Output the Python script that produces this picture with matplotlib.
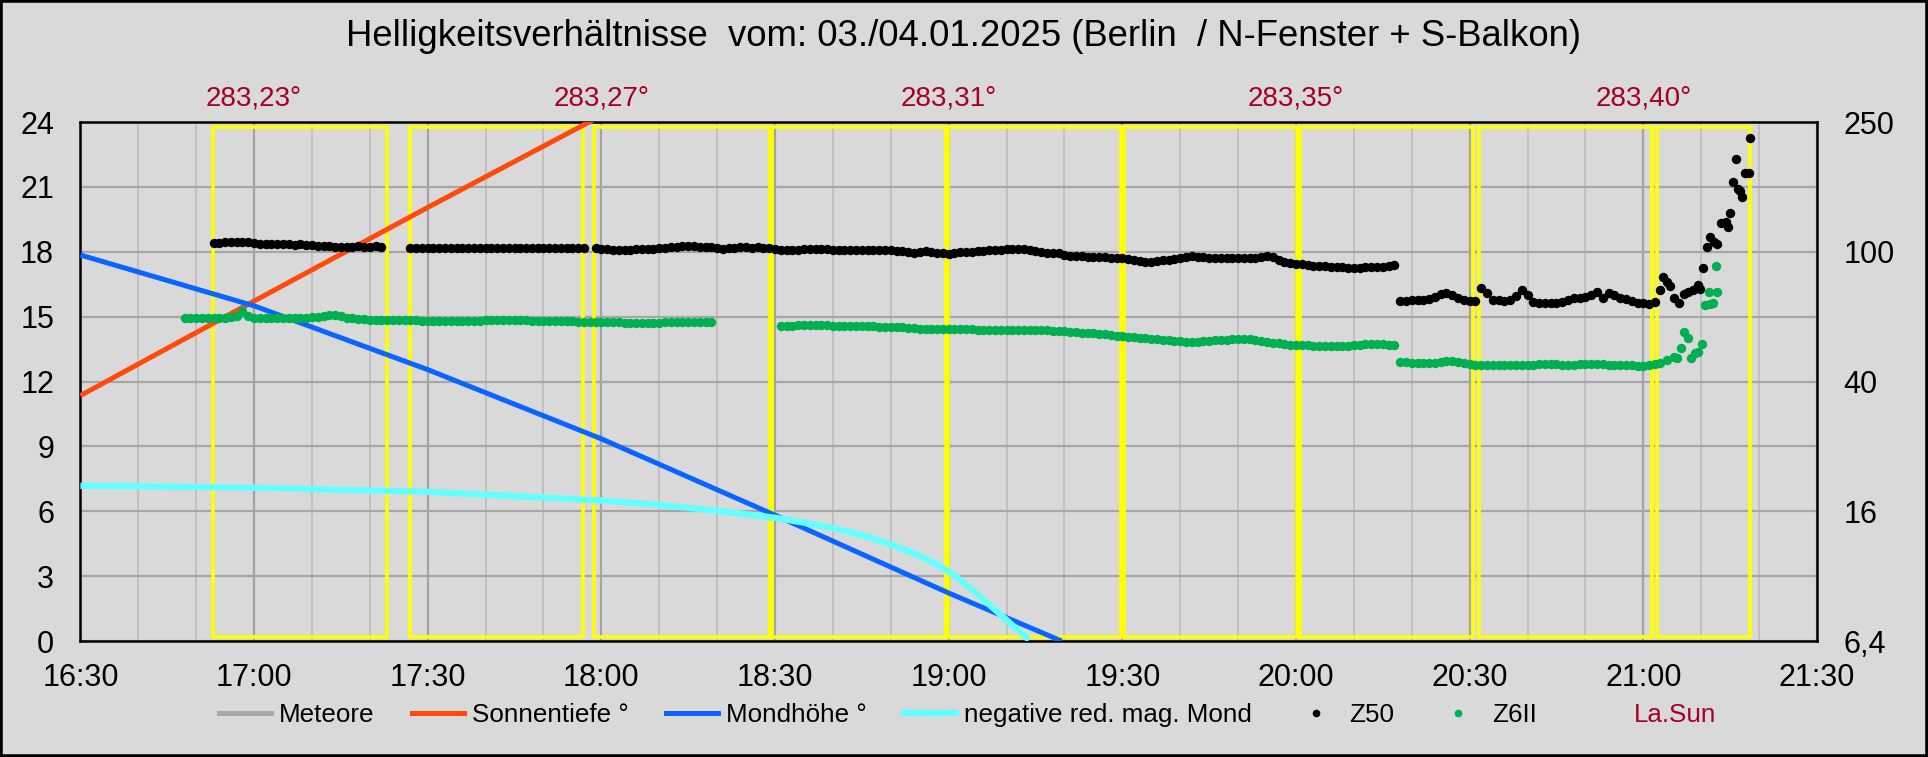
import numpy as np
import matplotlib.pyplot as plt
from matplotlib.lines import Line2D
from matplotlib.patches import Rectangle
from matplotlib.ticker import NullLocator
import matplotlib.transforms as mtransforms

plt.rcParams['font.family'] = ['Liberation Sans', 'DejaVu Sans']


def hm(s):
    h, m = s.split(":")
    return int(h) + float(m) / 60


# --- Linien (Zeit, Wert) ---
sun_time = ["16:30", "17:00", "17:30", "18:00"]
sun_val = [11.35, 15.72, 20.05, 24.3]

moon_time = ["16:30", "17:00", "17:30", "18:00", "18:30", "19:00", "19:19.5"]
moon_val = [17.85, 15.5, 12.55, 9.35, 5.82, 2.22, 0.0]

mag_time = ["16:30", "17:00", "17:30", "18:00", "18:10", "18:20", "18:30", "18:35",
            "18:40", "18:45", "18:50", "18:55", "18:57.5", "19:00", "19:02.5", "19:05",
            "19:07.5", "19:10", "19:13.9"]
mag_val = [7.18, 7.09, 6.90, 6.50, 6.30, 6.02, 5.70, 5.48,
           5.22, 4.90, 4.47, 3.94, 3.60, 3.22, 2.72, 2.16,
           1.57, 0.97, 0.05]

meteor_time = []  # keine Meteore

# --- Z50 (1-Minuten-Werte je Abschnitt) ---
z50_a_start = "16:53"
z50_a = [18.42, 18.42, 18.44, 18.47, 18.47, 18.46, 18.44, 18.40, 18.36, 18.35,
         18.37, 18.36, 18.38, 18.34, 18.33, 18.34, 18.32, 18.30, 18.28, 18.27,
         18.25, 18.24, 18.24, 18.24, 18.24, 18.25, 18.24, 18.24, 18.25, 18.24]
z50_b_start = "17:27"
z50_b = [18.17, 18.18, 18.17, 18.16, 18.17, 18.18, 18.17, 18.16, 18.16, 18.17,
         18.18, 18.18, 18.17, 18.16, 18.17, 18.17, 18.18, 18.17, 18.16, 18.16,
         18.17, 18.17, 18.18, 18.17, 18.17, 18.16, 18.16, 18.17, 18.17, 18.16, 18.16]
z50_c_start = "17:59"
z50_c = [18.17, 18.15, 18.12, 18.10, 18.09, 18.08, 18.10, 18.12, 18.14, 18.15,
         18.15, 18.16, 18.18, 18.20, 18.22, 18.25, 18.27, 18.26, 18.24, 18.22,
         18.20, 18.17, 18.15, 18.16, 18.18, 18.20, 18.20, 18.19, 18.20, 18.19,
         18.16, 18.12, 18.10, 18.08, 18.08, 18.10, 18.11, 18.12, 18.11, 18.11,
         18.11, 18.10, 18.09, 18.08, 18.08, 18.08, 18.08, 18.08, 18.08, 18.08,
         18.08, 18.08, 18.05, 18.02, 17.99, 17.96, 17.98, 18.03, 18.00, 17.95,
         17.93, 17.92, 17.94, 17.97, 17.99, 18.00, 18.02, 18.05, 18.08, 18.08,
         18.10, 18.11, 18.12, 18.12, 18.13, 18.10, 18.04, 17.98, 17.96, 17.95,
         17.94, 17.86, 17.80, 17.80, 17.79, 17.78, 17.77, 17.76, 17.74, 17.72,
         17.70, 17.70, 17.68, 17.62, 17.56, 17.53, 17.54, 17.57, 17.60, 17.62,
         17.66, 17.72, 17.78, 17.80, 17.78, 17.75, 17.73, 17.72, 17.71, 17.70,
         17.70, 17.70, 17.71, 17.72, 17.71, 17.75, 17.80, 17.74, 17.62, 17.52,
         17.47, 17.44, 17.42, 17.40, 17.36, 17.33, 17.32, 17.30, 17.29, 17.28,
         17.27, 17.27, 17.27, 17.28, 17.29, 17.30, 17.31, 17.33, 17.37]
z50_d_start = "20:18"
z50_d = [15.74, 15.74, 15.75, 15.76, 15.78, 15.80, 15.90, 16.05, 16.08, 15.98,
         15.85, 15.76, 15.72, 15.74, 16.31, 16.10, 15.78, 15.75, 15.74, 15.75,
         15.95, 16.23, 16.00, 15.70, 15.63, 15.62, 15.62, 15.64, 15.66, 15.75,
         15.85, 15.86, 15.90, 15.98, 16.15, 15.85, 16.08, 15.98, 15.87, 15.80,
         15.72, 15.65, 15.62, 15.60, 15.66]
# Minuten nach 21:00
z50_e_min = [2.9, 3.4, 4.1, 4.6, 5.3, 6.2, 7.0, 7.7, 8.6, 9.4, 9.8, 10.3, 11.0, 11.5,
             12.2, 12.7, 13.4, 14.3, 14.6, 14.9, 15.5, 16.0, 16.4, 16.7, 17.0, 17.6,
             18.3, 18.5]
z50_e = [16.23, 16.82, 16.6, 16.4, 15.85, 15.65, 16.05, 16.15, 16.25, 16.45, 16.3, 17.24,
         18.23, 18.7, 18.47, 18.37, 19.31, 19.38, 19.15, 19.78, 21.24, 22.29, 20.89,
         20.8, 20.55, 21.63, 21.63, 23.25]

# --- Z6II ---
z6_a_start = "16:48"
z6_a = [14.95, 14.95, 14.94, 14.94, 14.93, 14.93, 14.93, 14.95, 15.00, 15.05,
        15.27, 15.05, 14.93, 14.92, 14.92, 14.92, 14.93, 14.94, 14.93, 14.92,
        14.94, 14.96, 14.98, 15.00, 15.03, 15.06, 15.08, 15.02, 14.95, 14.92,
        14.88, 14.87, 14.86, 14.85, 14.84, 14.84, 14.84, 14.83, 14.83, 14.83,
        14.83, 14.82, 14.82, 14.82, 14.82, 14.82, 14.82, 14.82, 14.82, 14.82,
        14.82, 14.82, 14.83, 14.84, 14.85, 14.86, 14.86, 14.86, 14.85, 14.83,
        14.82, 14.81, 14.80, 14.79, 14.78, 14.78, 14.78, 14.78, 14.77, 14.77,
        14.76, 14.75, 14.74, 14.73, 14.73, 14.73, 14.72, 14.72, 14.72, 14.72,
        14.72, 14.72, 14.72, 14.73, 14.73, 14.74, 14.74, 14.73, 14.73, 14.73,
        14.74, 14.74]
z6_b_start = "18:31"
z6_b = [14.57, 14.58, 14.59, 14.60, 14.60, 14.60, 14.61, 14.60, 14.60, 14.59,
        14.58, 14.57, 14.56, 14.55, 14.55, 14.56, 14.55, 14.54, 14.53, 14.53,
        14.52, 14.50, 14.48, 14.46, 14.45, 14.44, 14.43, 14.42, 14.41, 14.41,
        14.42, 14.42, 14.42, 14.41, 14.40, 14.40, 14.40, 14.39, 14.38, 14.37,
        14.37, 14.38, 14.39, 14.39, 14.38, 14.37, 14.36, 14.35, 14.34, 14.33,
        14.30, 14.28, 14.26, 14.25, 14.24, 14.22, 14.18, 14.15, 14.12, 14.10,
        14.07, 14.04, 14.01, 13.99, 13.98, 13.96, 13.93, 13.90, 13.88, 13.86,
        13.85, 13.84, 13.84, 13.86, 13.88, 13.90, 13.91, 13.93, 13.95, 13.96,
        13.96, 13.95, 13.90, 13.86, 13.82, 13.79, 13.76, 13.73, 13.71, 13.69,
        13.68, 13.67, 13.66, 13.65, 13.64, 13.64, 13.64, 13.64, 13.65, 13.67,
        13.70, 13.72, 13.75, 13.75, 13.73, 13.71, 13.69]
z6_c_start = "20:18"
z6_c = [12.90, 12.89, 12.87, 12.85, 12.84, 12.85, 12.87, 12.90, 12.93, 12.95,
        12.90, 12.85, 12.80, 12.77, 12.75, 12.75, 12.76, 12.77, 12.77, 12.76,
        12.76, 12.77, 12.78, 12.78, 12.79, 12.80, 12.80, 12.79, 12.78, 12.77,
        12.78, 12.79, 12.80, 12.81, 12.82, 12.80, 12.78, 12.77, 12.76, 12.76,
        12.75, 12.74, 12.74, 12.76, 12.82]
z6_d_min = [2.9, 4.1, 5.3, 5.8, 6.5, 7.0, 7.7, 8.2, 8.9, 9.4, 10.1, 10.7, 11.3, 11.5,
            12.0, 12.5, 12.7]
z6_d = [12.85, 13.0, 13.15, 13.08, 13.53, 14.3, 14.0, 13.07, 13.3, 13.38, 13.75, 15.54,
        16.15, 15.6, 15.65, 17.34, 16.15]

# --- gelbe Aufnahmeblöcke ---
block_start = ["16:52.9", "17:26.9", "17:58.8", "18:29.5", "18:59.8", "19:30.3",
               "20:00.7", "20:31.6", "21:02.4"]
block_end = ["17:22.9", "17:56.8", "18:29.1", "18:59.5", "19:29.8", "20:00.2",
             "20:30.5", "21:01.5", "21:18.5"]

# --- La.Sun (Sonnenlänge) ---
lasun_time = ["17:00", "18:00", "19:00", "20:00", "21:00"]
lasun_text = ["283,23°", "283,27°", "283,31°", "283,35°", "283,40°"]

left_ticks = [0, 3, 6, 9, 12, 15, 18, 21, 24]
right_ticks = [6.4, 16, 40, 100, 250]
right_labels = ["6,4", "16", "40", "100", "250"]

title = "Helligkeitsverhältnisse  vom: 03./04.01.2025 (Berlin  / N-Fenster + S-Balkon)"


def seg(start, vals):
    return hm(start) + np.arange(len(vals)) / 60.0


z50_t = np.concatenate([seg(z50_a_start, z50_a), seg(z50_b_start, z50_b),
                        seg(z50_c_start, z50_c), seg(z50_d_start, z50_d),
                        21 + np.array(z50_e_min) / 60])
z50_v = np.concatenate([z50_a, z50_b, z50_c, z50_d, z50_e])
z6_t = np.concatenate([seg(z6_a_start, z6_a), seg(z6_b_start, z6_b),
                       seg(z6_c_start, z6_c), 21 + np.array(z6_d_min) / 60])
z6_v = np.concatenate([z6_a, z6_b, z6_c, z6_d])

BG = "#D9D9D9"
DARKRED = "#A50021"

fig = plt.figure(figsize=(19.28, 7.57), dpi=100, facecolor=BG)
ax = fig.add_axes([0.0417, 0.1532, 0.9007, 0.6856])
ax.set_facecolor(BG)
ax.set_axisbelow(True)

# Achsen und Gitter
ax.set_xlim(16.5, 21.5)
ax.set_ylim(0, 24)
major_x = np.arange(16.5, 21.51, 0.5)
ax.set_xticks(major_x)
ax.set_xticks(np.arange(16.5, 21.51, 1 / 6), minor=True)
ax.set_xticklabels(["%d:%02d" % (int(h), round((h % 1) * 60)) for h in major_x])
ax.set_yticks(left_ticks)
ax.grid(which="major", axis="y", color="#A6A6A6", lw=1.6)
ax.grid(which="major", axis="x", color="#A3A3A3", lw=1.6)
ax.grid(which="minor", axis="x", color="#BEBEBE", lw=1.3)
ax.tick_params(which="both", length=0)
ax.tick_params(axis="x", labelsize=22, pad=16)
ax.tick_params(axis="y", labelsize=22, pad=19)
for sp in ax.spines.values():
    sp.set_color("black")
    sp.set_linewidth(1.8)

# gelbe Blöcke
for s, e in zip(block_start, block_end):
    x0, x1 = hm(s), hm(e)
    ax.add_patch(Rectangle((x0, 0.2), x1 - x0, 23.55, fill=False,
                           edgecolor="#FFFF00", lw=2.6, zorder=2))

ax.plot([hm(t) for t in meteor_time], [0] * len(meteor_time), color="#A6A6A6", lw=3.5)
ax.plot([hm(t) for t in sun_time], sun_val, color="#FF4A0D", lw=3.6, zorder=3,
        solid_capstyle="butt")
ax.plot([hm(t) for t in moon_time], moon_val, color="#0A64FF", lw=3.6, zorder=4,
        solid_capstyle="butt")
ax.plot([hm(t) for t in mag_time], mag_val, color="#66FFFF", lw=4.6, zorder=5,
        solid_capstyle="butt", solid_joinstyle="round")
ax.scatter(z6_t, z6_v, s=46, color="#00B050", lw=0, zorder=6)
ax.scatter(z50_t, z50_v, s=46, color="black", lw=0, zorder=7)

# rechte Achse (log)
ax2 = ax.twinx()
ax2.set_yscale("log")
ax2.set_ylim(6.4, 250)
ax2.set_yticks(right_ticks)
ax2.set_yticklabels(right_labels)
ax2.yaxis.set_minor_locator(NullLocator())
ax2.tick_params(axis="y", which="both", length=0, labelsize=22, pad=19)
for sp in ax2.spines.values():
    sp.set_visible(False)

# La.Sun-Beschriftung über dem Diagramm
trans = mtransforms.blended_transform_factory(ax.transData, ax.transAxes)
for t, txt in zip(lasun_time, lasun_text):
    ax.text(hm(t), 1.045, txt, transform=trans, ha="center", va="center",
            color=DARKRED, fontsize=20)

fig.text(0.5, 1 - 37 / 757, title, ha="center", va="center", fontsize=26.3)

handles = [
    Line2D([], [], color="#A6A6A6", lw=3.5),
    Line2D([], [], color="#FF4A0D", lw=3.6),
    Line2D([], [], color="#0A64FF", lw=3.6),
    Line2D([], [], color="#66FFFF", lw=4.6),
    Line2D([], [], color="black", marker="o", ls="none", markersize=4.5),
    Line2D([], [], color="#00B050", marker="o", ls="none", markersize=4.5),
    Line2D([], [], ls="none"),
]
labels = ["Meteore", "Sonnentiefe °", "Mondhöhe °", "negative red. mag. Mond",
          "Z50", "Z6II", "La.Sun"]
leg = fig.legend(handles, labels, loc="center", bbox_to_anchor=(0.502, 1 - 715 / 757),
                 ncol=7, frameon=False, fontsize=18.7, handlelength=2.0,
                 handletextpad=0.3, columnspacing=1.45)
leg.get_texts()[-1].set_color(DARKRED)

fig.patches.append(Rectangle((0, 0), 1, 1, transform=fig.transFigure, fill=False,
                             edgecolor="black", lw=4))

fig.savefig("out.png", dpi=100, facecolor=BG)
